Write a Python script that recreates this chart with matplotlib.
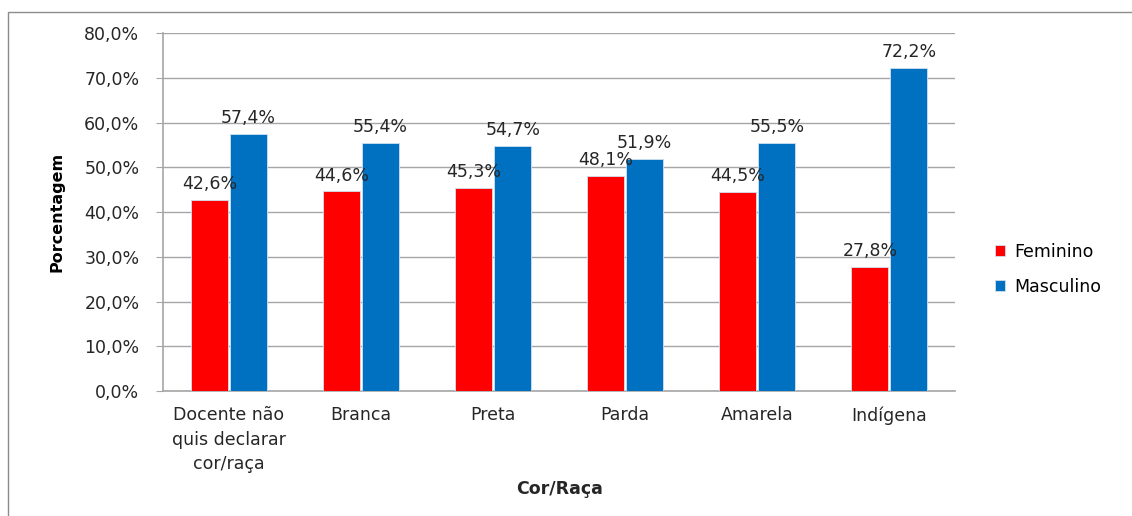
import matplotlib.pyplot as plt
import numpy as np
from matplotlib.patches import Rectangle
from matplotlib.ticker import FuncFormatter

categories = ["Docente não\nquis declarar\ncor/raça", "Branca", "Preta", "Parda", "Amarela", "Indígena"]
feminino = [42.6, 44.6, 45.3, 48.1, 44.5, 27.8]
masculino = [57.4, 55.4, 54.7, 51.9, 55.5, 72.2]

RED = "#FF0000"
BLUE = "#0070C0"
GRID = "#A6A6A6"
TEXT = "#262626"
FS = 12.5

plt.rcParams["font.family"] = ["DejaVu Sans"]

fig = plt.figure(figsize=(11.32, 5.16), dpi=100)
ax = fig.add_axes([0.144, 0.242, 0.700, 0.694])

# outer chart border
fig.patches.append(Rectangle((8 / 1132, -0.01), 1.0, 1 - 12 / 516 + 0.01,
                             transform=fig.transFigure, fill=False,
                             edgecolor="#8C8C8C", linewidth=1.0))

x = np.arange(len(categories))
width = 0.28
gap = 0.008
bars_f = ax.bar(x - width / 2 - gap, feminino, width, color=RED,
                edgecolor="#D0E0F0", linewidth=0.6, label="Feminino", zorder=3)
bars_m = ax.bar(x + width / 2 + gap, masculino, width, color=BLUE,
                edgecolor="#D0E0F0", linewidth=0.6, label="Masculino", zorder=3)

for bars, vals in ((bars_f, feminino), (bars_m, masculino)):
    for bar, v in zip(bars, vals):
        ax.annotate(f"{v:.1f}%".replace(".", ","),
                    (bar.get_x() + bar.get_width() / 2, v),
                    xytext=(0, 5), textcoords="offset points",
                    ha="center", va="bottom", fontsize=FS, color=TEXT, zorder=4)

ax.set_xlim(-0.5, len(categories) - 0.5)
ax.set_ylim(0, 80)
ax.set_yticks(np.arange(0, 81, 10))
ax.yaxis.set_major_formatter(FuncFormatter(lambda v, _: f"{v:.1f}%".replace(".", ",")))
ax.grid(axis="y", color=GRID, linewidth=1.0, zorder=0)
ax.set_axisbelow(True)

ax.set_xticks(x)
ax.set_xticklabels(categories, fontsize=FS, color=TEXT, linespacing=1.45)
ax.tick_params(axis="x", length=0, pad=11)
ax.tick_params(axis="y", length=5, color=GRID, labelsize=FS, labelcolor=TEXT, pad=12)

for side in ("top", "right"):
    ax.spines[side].set_visible(False)
for side in ("left", "bottom"):
    ax.spines[side].set_color(GRID)
    ax.spines[side].set_linewidth(1.2)

ax.set_ylabel("Porcentagem", fontsize=11.5, fontweight="bold", color="black", labelpad=14)
ax.set_xlabel("Cor/Raça", fontsize=FS, fontweight="bold", color=TEXT, labelpad=5)

ax.legend(loc="center left", bbox_to_anchor=(1.03, 0.34), frameon=False,
          fontsize=FS, handlelength=0.6, handleheight=0.6, labelspacing=1.0,
          handletextpad=0.5)

fig.savefig("out.png", dpi=100)
